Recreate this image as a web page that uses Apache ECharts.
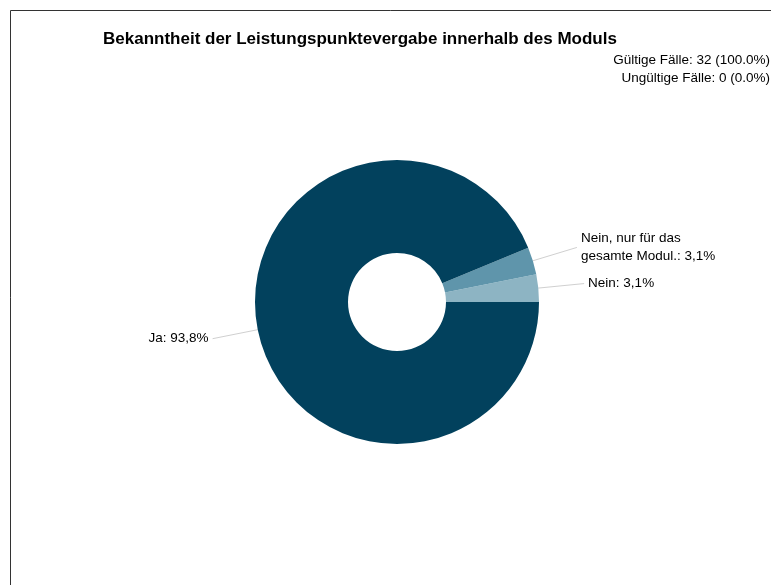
<!DOCTYPE html>
<html>
<head>
<meta charset="utf-8">
<script src="https://cdn.jsdelivr.net/npm/echarts@6/dist/echarts.min.js"></script>
<style>
html,body{margin:0;padding:0;background:#fff;}
#chart{width:771px;height:585px;}
</style>
</head>
<body>
<div id="chart"></div>
<script>
const categories = ["Nein", "Nein, nur für das\ngesamte Modul.", "Ja"];
const counts = [1, 1, 30];
const percentLabels = ["3,1%", "3,1%", "93,8%"];
const colors = ["#8db4c3", "#5f95ab", "#02415d"];
const titleText = "Bekanntheit der Leistungspunktevergabe innerhalb des Moduls";
const infoLines = ["Gültige Fälle: 32 (100.0%)", "Ungültige Fälle: 0 (0.0%)"];

const chart = echarts.init(document.getElementById('chart'), null, {renderer: 'canvas'});
const font = 'Arial, "Liberation Sans", sans-serif';

const data = categories.map((c, i) => ({
  name: c,
  value: counts[i],
  itemStyle: {color: colors[i]},
  label: {formatter: c + ': ' + percentLabels[i]}
}));

chart.setOption({
  animation: false,
  backgroundColor: '#fff',
  title: {
    text: titleText,
    left: 98,
    top: 26,
    textStyle: {fontFamily: font, fontSize: 17, fontWeight: 'bold', color: '#000'}
  },
  graphic: [
    {type: 'line', shape: {x1: 10.5, y1: 10.5, x2: 771, y2: 10.5}, style: {stroke: '#333', lineWidth: 1}},
    {type: 'line', shape: {x1: 10.5, y1: 10.5, x2: 10.5, y2: 585}, style: {stroke: '#333', lineWidth: 1}},
    {type: 'text', right: 1, top: 53, style: {text: infoLines[0], font: '13.5px ' + font, fill: '#000', textAlign: 'right'}},
    {type: 'text', right: 1, top: 71, style: {text: infoLines[1], font: '13.5px ' + font, fill: '#000', textAlign: 'right'}}
  ],
  series: [{
    type: 'pie',
    center: [397, 302],
    radius: [49, 142],
    startAngle: 0,
    clockwise: false,
    avoidLabelOverlap: false,
    data: data,
    label: {
      show: true,
      fontFamily: font,
      fontSize: 13.5,
      color: '#000',
      lineHeight: 18,
      padding: [6, 0, 0, 0],
      distanceToLabelLine: 4
    },
    labelLine: {
      show: true,
      length: 46,
      length2: 0,
      smooth: false,
      lineStyle: {color: '#d0d0d0', width: 1}
    },
    emphasis: {disabled: true}
  }]
});
</script>
</body>
</html>
